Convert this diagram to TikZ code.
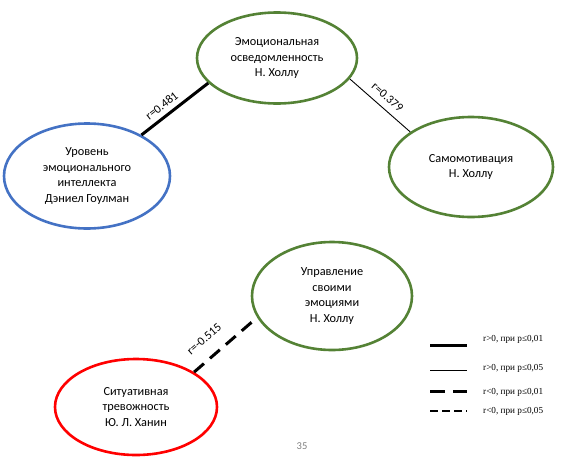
\documentclass[tikz,border=0pt]{standalone}
\usepackage{fontspec}
\setmainfont{Carlito}
\newfontfamily\legendfont{Liberation Serif}
\usetikzlibrary{shapes.geometric}

\definecolor{hollgreen}{RGB}{84,130,53}
\definecolor{goleblue}{RGB}{68,114,196}

\begin{document}
\begin{tikzpicture}[
  x=1pt, y=-1pt,
  font=\fontsize{12.3}{15.5}\selectfont,
  factor/.style={draw, ellipse, line width=2.6pt, align=center, inner sep=0pt},
  strongpos/.style={line width=3pt},
  weakpos/.style={line width=0.9pt},
  strongneg/.style={line width=3pt, dash pattern=on 13pt off 8pt},
  weakneg/.style={line width=1.4pt, dash pattern=on 8pt off 4pt},
  corr/.style={sloped, inner sep=1pt, font=\fontsize{12}{13}\selectfont},
  legtext/.style={anchor=west, inner sep=0pt, font=\legendfont\fontsize{9.2}{10}\selectfont}
]
\useasboundingbox (0,0) rectangle (577,471);

% scales
\node[factor, draw=hollgreen, minimum width=160pt, minimum height=91pt] (aware) at (277,58) {Эмоциональная\\осведомленность\\Н. Холлу};
\node[factor, draw=goleblue, minimum width=166pt, minimum height=105pt] (eiq) at (87,176) {Уровень\\эмоционального\\интеллекта\\Дэниел Гоулман};
\node[factor, draw=hollgreen, minimum width=164pt, minimum height=100pt] (motiv) at (471,167) {Самомотивация\\Н. Холлу};
\node[factor, draw=hollgreen, minimum width=160pt, minimum height=108pt] (manage) at (332,296) {Управление\\своими\\эмоциями\\Н. Холлу};
\node[factor, draw=red, minimum width=162pt, minimum height=96pt] (anxiety) at (136,407) {Ситуативная\\тревожность\\Ю. Л. Ханин};

% correlations
\draw[strongpos] (eiq.37) -- node[corr, pos=0.4, above=4pt] (r1) {r=0.481} (aware.200);
\draw[weakpos] (aware.344) -- node[corr, pos=0.5, above=6pt] (r2) {r=0.379} (motiv.150);
\draw[strongneg] (anxiety.31) -- node[corr, pos=0.35, above=12pt] (r3) {r=-0.515} (manage.196);

% legend
\coordinate (l1a) at (430,345); \coordinate (l1b) at (467,345);
\coordinate (l2a) at (430,370); \coordinate (l2b) at (467,370);
\coordinate (l3a) at (430,391); \coordinate (l3b) at (467,391);
\coordinate (l4a) at (430,411); \coordinate (l4b) at (467,411);
\draw[strongpos] (l1a) -- (l1b);
\draw[weakpos] (l2a) -- (l2b);
\draw[strongneg, dash pattern=on 15pt off 8pt] (l3a) -- (l3b);
\draw[weakneg] (l4a) -- (l4b);
\node[legtext] (t1) at (483,339) {r>0, при p≤0,01};
\node[legtext] (t2) at (483,368) {r>0, при p≤0,05};
\node[legtext] (t3) at (483,392) {r<0, при p≤0,01};
\node[legtext] (t4) at (483,411) {r<0, при p≤0,05};

\node[text=gray, font=\fontsize{10.5}{11}\selectfont] (page) at (302,446) {35};
\end{tikzpicture}
\end{document}
